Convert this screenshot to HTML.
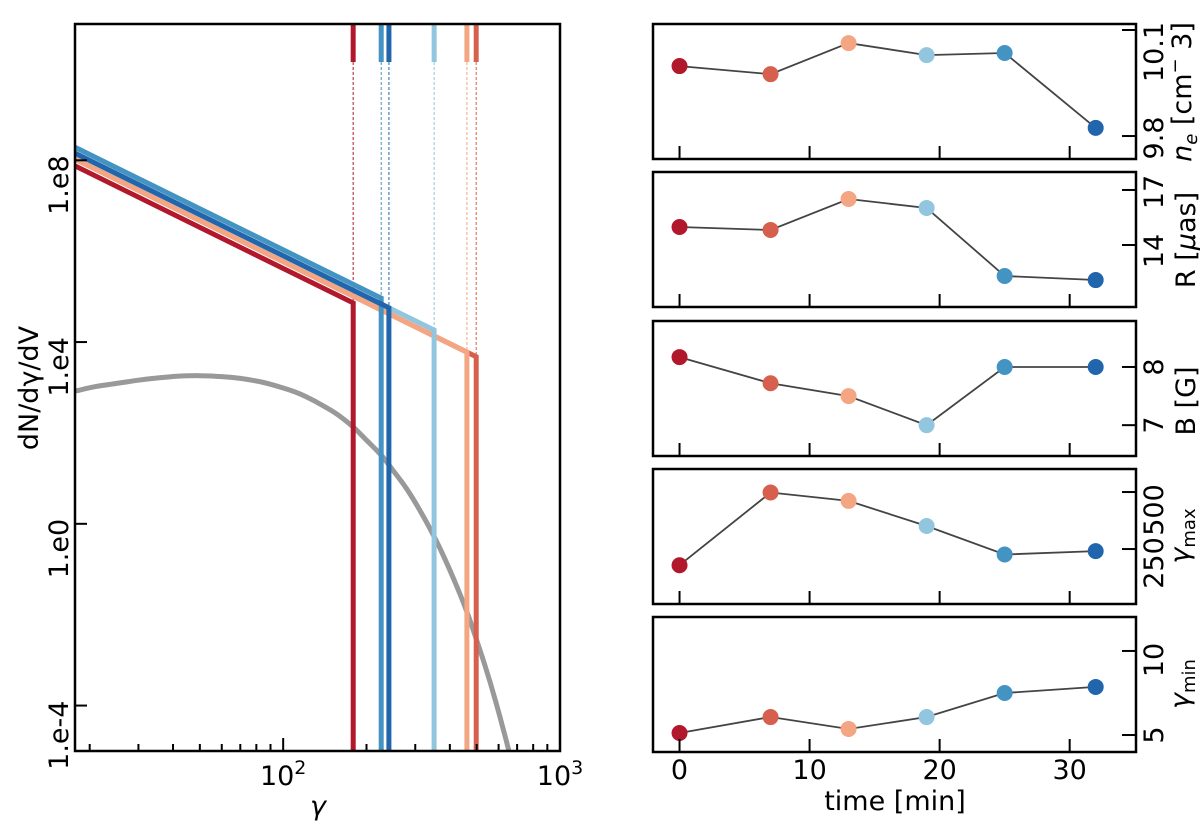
<!DOCTYPE html>
<html><head><meta charset="utf-8"><style>
html,body{margin:0;padding:0;background:#fff;}
svg{display:block;font-family:"DejaVu Sans","Liberation Sans",sans-serif;}
</style></head><body>
<svg id="fig" width="1200" height="824" viewBox="0 0 1200 824" xmlns="http://www.w3.org/2000/svg">
<g id="left"></g>
<g id="right"></g>
</svg>
<script>
// ---- data ----
const times = [0, 7, 13, 19, 25, 32];
const colors = ["#b2182b", "#d6604d", "#f4a582", "#92c5de", "#4393c3", "#2166ac"];
const neVals = [9.998, 9.975, 10.063, 10.029, 10.035, 9.823];
const rVals = [14.98, 14.82, 16.51, 16.02, 12.31, 12.09];
const bVals = [8.17, 7.72, 7.5, 7.0, 8.0, 8.0];
const gmaxVals = [179, 498, 461, 351, 226, 241];
const gminVals = [5.12, 6.07, 5.36, 6.07, 7.5, 7.86];
const normLog100 = [5.62, 5.77, 5.77, 5.90, 6.03, 5.90]; // log10 dN/dγ/dV at γ=100
const pIndex = 3.0;
const thermGamma = [17.7, 21, 25, 30, 35, 42, 50, 60, 70, 85, 100, 115, 130, 155, 179, 200, 226, 250, 280, 315, 351, 385, 420, 460, 498, 530, 560, 590, 620, 650, 680];
const thermLog = [2.92, 3.02, 3.09, 3.16, 3.21, 3.25, 3.26, 3.24, 3.20, 3.11, 2.99, 2.86, 2.70, 2.43, 2.13, 1.84, 1.51, 1.17, 0.76, 0.25, -0.28, -0.79, -1.32, -1.92, -2.53, -3.03, -3.50, -3.98, -4.46, -4.94, -5.42];
const yTickVals = [8, 4, 0, -4];
const yTickLabels = ["1.e8", "1.e4", "1.e0", "1.e-4"];
const timeTicks = [0, 10, 20, 30];

const NS = "http://www.w3.org/2000/svg";
const FS = 27;
function mk(tag, attrs, parent) {
  const e = document.createElementNS(NS, tag);
  for (const k in attrs) e.setAttribute(k, attrs[k]);
  parent.appendChild(e);
  return e;
}
const L = document.getElementById("left");
const R = document.getElementById("right");

// ---- left axes ----
const lx0 = 75, lx1 = 560, ly0 = 24, ly1 = 751;
const xLogMin = Math.log10(17.7), xLogMax = 3;
const yLogMin = -5, yLogMax = 11;
function gx(g) { return lx0 + (Math.log10(g) - xLogMin) / (xLogMax - xLogMin) * (lx1 - lx0); }
function ly(v) { return ly1 - (v - yLogMin) / (yLogMax - yLogMin) * (ly1 - ly0); }

const clip = mk("clipPath", {id: "lclip"}, L);
mk("rect", {x: lx0, y: ly0, width: lx1 - lx0, height: ly1 - ly0}, clip);
const plotG = mk("g", {"clip-path": "url(#lclip)"}, L);



// thermal curve (smooth through read points)
const pts = thermGamma.map((g, i) => [gx(g), ly(thermLog[i])]);
let d = "M" + pts[0][0].toFixed(1) + "," + pts[0][1].toFixed(1);
for (let i = 0; i < pts.length - 1; i++) {
  const p0 = pts[Math.max(0, i - 1)], p1 = pts[i], p2 = pts[i + 1], p3 = pts[Math.min(pts.length - 1, i + 2)];
  const c1x = p1[0] + (p2[0] - p0[0]) / 6, c1y = p1[1] + (p2[1] - p0[1]) / 6;
  const c2x = p2[0] - (p3[0] - p1[0]) / 6, c2y = p2[1] - (p3[1] - p1[1]) / 6;
  d += `C${c1x.toFixed(1)},${c1y.toFixed(1)} ${c2x.toFixed(1)},${c2y.toFixed(1)} ${p2[0].toFixed(1)},${p2[1].toFixed(1)}`;
}
const th = mk("path", {d: d, fill: "none", stroke: "#999", "stroke-width": 5, "stroke-linejoin": "round"}, plotG);



// power-law series
times.forEach((t, i) => {
  const gmax = gmaxVals[i];
  const yStart = normLog100[i] - pIndex * (xLogMin - 2);
  const yEnd = normLog100[i] - pIndex * (Math.log10(gmax) - 2);
  const xE = gx(gmax);
  const p = mk("path", {d: `M${lx0},${ly(yStart).toFixed(1)}L${xE.toFixed(1)},${ly(yEnd).toFixed(1)}L${xE.toFixed(1)},${ly1}`,
    fill: "none", stroke: colors[i], "stroke-width": 5, "stroke-linejoin": "miter"}, plotG);
  
  
  const dl = mk("line", {x1: xE, x2: xE, y1: 62, y2: ly(yEnd), stroke: colors[i], "stroke-width": 1, "stroke-dasharray": "3,2"}, plotG);
  
  
  const tm = mk("line", {x1: xE, x2: xE, y1: ly0, y2: 62, stroke: colors[i], "stroke-width": 5}, plotG);
  
  
});

// frame
const lf = mk("rect", {x: lx0, y: ly0, width: lx1 - lx0, height: ly1 - ly0, fill: "none", stroke: "#000", "stroke-width": 2.5}, L);



// y ticks
yTickVals.forEach((v, i) => {
  const y = ly(v);
  const tk = mk("line", {x1: lx0, x2: lx0 + 12, y1: y, y2: y, stroke: "#000", "stroke-width": 2}, L);
  
  
  const tx = mk("text", {x: 0, y: 0, "font-size": FS, "text-anchor": "end", transform: `translate(68,${y - 5}) rotate(-90)`}, L);
  tx.textContent = yTickLabels[i];
  
  
});
// x ticks (log minor)
for (let dec = 10; dec <= 1000; dec *= 10) {
  for (let m = 1; m <= 9; m++) {
    const g = dec * m;
    if (g < 17.7 || g > 1000) continue;
    const x = gx(g);
    const major = (m === 1);
    const tk = mk("line", {x1: x, x2: x, y1: ly1, y2: ly1 - (major ? 13 : 7), stroke: "#000", "stroke-width": 2}, L);
    
    
  }
}
[[100, "2"], [1000, "3"]].forEach(([g, e]) => {
  const tx = mk("text", {x: gx(g), y: 785, "font-size": FS, "text-anchor": "middle"}, L);
  tx.innerHTML = `10<tspan dy="-11" font-size="19">${e}</tspan>`;
  
  
});
const xt = mk("text", {x: 318, y: 815, "font-size": FS, "text-anchor": "middle", "font-style": "italic"}, L);
xt.textContent = "γ";


const yt = mk("text", {x: 0, y: 0, "font-size": FS, "text-anchor": "middle", transform: "translate(38,388) rotate(-90)"}, L);
yt.textContent = "dN/dγ/dV";



// ---- right panels ----
const rx0 = 653, rx1 = 1136, tMin = -2.04, tMax = 35.1;
function tx_(t) { return rx0 + (t - tMin) / (tMax - tMin) * (rx1 - rx0); }
const panels = [
  {name: "ne", vals: neVals, top: 24, lo: 9.735, hi: 10.117, ticks: [10.1, 9.8], tl: ["10.1", "9.8"], tly: [52, 138], label: '<tspan font-style="italic">n</tspan><tspan font-style="italic" font-size="18" dy="6">e</tspan><tspan dy="-6"> [cm</tspan><tspan dy="-10" font-size="18">−</tspan><tspan dy="10"> 3]</tspan>', lcy: 92, lx: 1191},
  {name: "radius", vals: rVals, top: 172, lo: 10.62, hi: 17.98, ticks: [17, 14], tl: ["17", "14"], tly: [192, 251], label: 'R [<tspan font-style="italic">μ</tspan>as]', lcy: 240, lx: 1195},
  {name: "b-field", vals: bVals, top: 321, lo: 6.47, hi: 8.79, ticks: [8, 7], tl: ["8", "7"], tly: [367, 425], label: "B [G]", lcy: 401, lx: 1195},
  {name: "gamma-max", vals: gmaxVals, top: 469, lo: 9, hi: 601, ticks: [500, 250], tl: ["500", "250"], tly: [510, 563], label: '<tspan font-style="italic">γ</tspan><tspan font-size="18" dy="6">max</tspan>', lcy: 536, lx: 1189},
  {name: "gamma-min", vals: gminVals, top: 617, lo: 3.99, hi: 12.02, ticks: [10, 5], tl: ["10", "5"], tly: [660, 735], label: '<tspan font-style="italic">γ</tspan><tspan font-size="18" dy="6">min</tspan>', lcy: 684, lx: 1189}
];
const ph = 135;
panels.forEach(p => {
  const g = mk("g", {}, R);
  
  
  const py = v => p.top + ph - (v - p.lo) / (p.hi - p.lo) * ph;
  let dd = "";
  times.forEach((t, i) => { dd += (i ? "L" : "M") + tx_(t).toFixed(1) + "," + py(p.vals[i]).toFixed(1); });
  const ln = mk("path", {d: dd, fill: "none", stroke: "#444", "stroke-width": 1.8}, g);
  
  
  times.forEach((t, i) => {
    const c = mk("circle", {cx: tx_(t), cy: py(p.vals[i]), r: 8, fill: colors[i]}, g);
    
    
  });
  const fr = mk("rect", {x: rx0, y: p.top, width: rx1 - rx0, height: ph, fill: "none", stroke: "#000", "stroke-width": 2.5}, g);
  
  
  timeTicks.forEach(t => {
    const tk = mk("line", {x1: tx_(t), x2: tx_(t), y1: p.top + ph, y2: p.top + ph - 13, stroke: "#000", "stroke-width": 2}, g);
    
    
  });
  p.ticks.forEach((v, i) => {
    const y = py(v);
    const tk = mk("line", {x1: rx1, x2: rx1 - 14, y1: y, y2: y, stroke: "#000", "stroke-width": 2}, g);
    
    
    const tl = mk("text", {x: 0, y: 0, "font-size": FS, "text-anchor": "middle", transform: `translate(1163,${p.tly[i]}) rotate(-90)`}, g);
    tl.textContent = p.tl[i];
    
    
  });
  const lb = mk("text", {x: 0, y: 0, "font-size": FS, "text-anchor": "middle", transform: `translate(${p.lx},${p.lcy}) rotate(-90)`}, g);
  lb.innerHTML = p.label;
  
  
});
timeTicks.forEach(t => {
  const tl = mk("text", {x: tx_(t), y: 779, "font-size": FS, "text-anchor": "middle"}, R);
  tl.textContent = t;
  
  
});
const tt = mk("text", {x: 895, y: 810, "font-size": FS, "text-anchor": "middle"}, R);
tt.textContent = "time [min]";


</script>
</body></html>
